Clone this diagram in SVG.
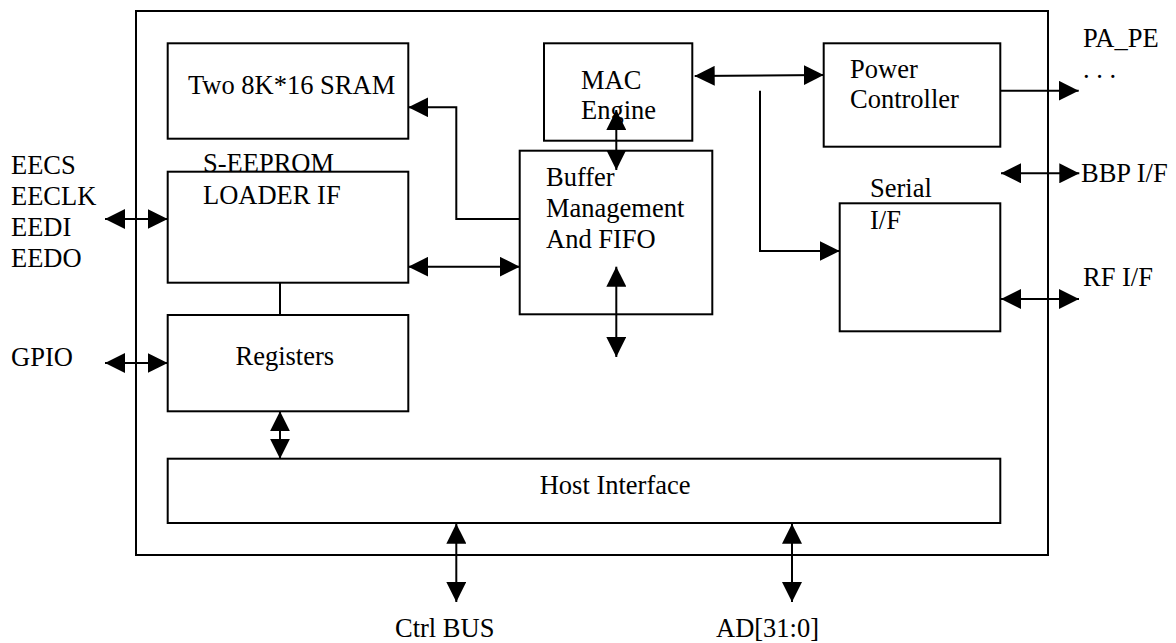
<svg xmlns="http://www.w3.org/2000/svg" width="1176" height="643" viewBox="0 0 1176 643">
<style>
.box{fill:#fff;stroke:#000;stroke-width:2}
.frame{fill:none;stroke:#000;stroke-width:2}
.t{font-size:26.5px;fill:#000}
.c{fill:none;stroke:#000;stroke-width:2}
.bi{marker-start:url(#ah);marker-end:url(#ah)}
.uni{marker-end:url(#ah)}
</style>
<defs>
<marker id="ah" viewBox="0 0 20 20" refX="20" refY="10" markerWidth="20" markerHeight="20" markerUnits="userSpaceOnUse" orient="auto-start-reverse">
<path d="M0,0 L20,10 L0,20 Z" fill="#000"/>
</marker>
</defs>
<rect width="1176" height="643" fill="#fff"/>
<g id="chip">
<rect class="frame" x="136" y="11" width="912" height="544"/>
</g>
<g font-family="'Liberation Serif', 'Times New Roman', Tinos, 'DejaVu Serif', serif">
<g id="sram">
<rect class="box" x="167.7" y="43.3" width="240.6" height="95.4"/>
<text class="t" x="188" y="94">Two 8K*16 SRAM</text>
</g>
<g id="loader">
<rect class="box" x="167.7" y="171.7" width="240.6" height="111"/>
<text class="t" x="203" y="172">S-EEPROM</text>
<text class="t" x="203" y="204">LOADER IF</text>
</g>
<g id="registers">
<rect class="box" x="167.7" y="315" width="240.6" height="96.3"/>
<text class="t" x="235.5" y="365">Registers</text>
</g>
<g id="host">
<rect class="box" x="167.7" y="458.7" width="832.6" height="64.3"/>
<text class="t" x="539.7" y="494">Host Interface</text>
</g>
<g id="mac">
<rect class="box" x="544" y="43.3" width="148.3" height="97.4"/>
<text class="t" x="581" y="89">MAC</text>
<text class="t" x="581" y="119">Engine</text>
</g>
<g id="buffer">
<rect class="box" x="519.7" y="150.7" width="192.6" height="163.6"/>
<text class="t" x="546" y="185.5">Buffer</text>
<text class="t" x="546" y="216.7">Management</text>
<text class="t" x="546" y="247.5">And FIFO</text>
</g>
<g id="power">
<rect class="box" x="823.7" y="43.3" width="176.6" height="103.4"/>
<text class="t" x="850" y="78">Power</text>
<text class="t" x="850" y="108">Controller</text>
</g>
<g id="serial">
<rect class="box" x="839.7" y="203.3" width="160.6" height="128"/>
<text class="t" x="870" y="197">Serial</text>
<text class="t" x="870" y="229">I/F</text>
</g>
<g id="labels">
<text class="t" x="11" y="174">EECS</text>
<text class="t" x="11" y="204.5">EECLK</text>
<text class="t" x="11" y="235.5">EEDI</text>
<text class="t" x="11" y="267">EEDO</text>
<text class="t" x="11" y="366">GPIO</text>
<text class="t" x="1083" y="46.7">PA_PE</text>
<text class="t" x="1083" y="78">. . .</text>
<text class="t" x="1081" y="181.7">BBP I/F</text>
<text class="t" x="1083" y="286">RF I/F</text>
<text class="t" x="395" y="637">Ctrl BUS</text>
<text class="t" x="716" y="637">AD[31:0]</text>
</g>
</g>
<g id="connectors">
<line class="c bi" x1="105" y1="219" x2="167.7" y2="219"/>
<line class="c bi" x1="105" y1="363" x2="167.7" y2="363"/>
<polyline class="c uni" points="520,219 456.3,219 456.3,107.3 408.3,107.3"/>
<line class="c bi" x1="408.3" y1="266.7" x2="519.7" y2="266.7"/>
<line class="c" x1="280" y1="282.7" x2="280" y2="315"/>
<line class="c bi" x1="280" y1="411.3" x2="280" y2="458.7"/>
<line class="c bi" x1="616.3" y1="110" x2="616.3" y2="170"/>
<line class="c bi" x1="616.3" y1="266.7" x2="616.3" y2="357"/>
<line class="c bi" x1="694.7" y1="76" x2="823.7" y2="75"/>
<polyline class="c uni" points="760,90.7 760,251 839.7,251"/>
<line class="c uni" x1="1000.3" y1="90.7" x2="1078.7" y2="90.7"/>
<line class="c bi" x1="1001" y1="173.3" x2="1079.3" y2="173.3"/>
<line class="c bi" x1="1001" y1="299" x2="1079" y2="299"/>
<line class="c bi" x1="456.3" y1="523.7" x2="456.3" y2="602"/>
<line class="c bi" x1="792" y1="523.7" x2="792" y2="602"/>
</g>
</svg>
